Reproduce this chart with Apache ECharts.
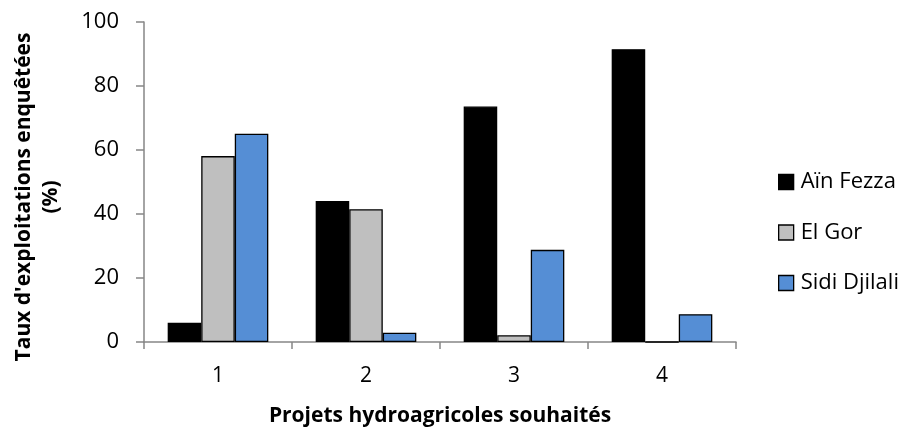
<!DOCTYPE html>
<html>
<head>
<meta charset="utf-8">
<script src="https://cdn.jsdelivr.net/npm/echarts@6/dist/echarts.min.js"></script>
<style>
  html, body { margin: 0; padding: 0; background: #fff; }
  #chart { width: 908px; height: 430px; }
</style>
</head>
<body>
<div id="chart"></div>
<script>
// Projects categories on the x axis
const categories = ['1', '2', '3', '4'];

// Share of surveyed farms (%) per site
const ainFezza = [6.0, 44.1, 73.6, 91.5];
const elGor = [58.1, 41.5, 2.1, 0];
const sidiDjilali = [65.1, 2.9, 28.8, 8.7];

const seriesNames = ['Aïn Fezza', 'El Gor', 'Sidi Djilali'];
const yTicks = { min: 0, max: 100, interval: 20 };

const FONT = 'Open Sans';
const axisGray = '#868686';

const chart = echarts.init(document.getElementById('chart'), null, { renderer: 'canvas' });

function barSeries(name, data, color) {
  return {
    name: name,
    type: 'bar',
    data: data,
    barGap: '0%',
    barCategoryGap: '32%',
    itemStyle: { color: color, borderColor: '#000', borderWidth: 1.3 },
    emphasis: { disabled: true }
  };
}

chart.setOption({
  animation: false,
  textStyle: { fontFamily: FONT },
  grid: { left: 144, right: 172, top: 22, bottom: 88, containLabel: false, outerBoundsMode: 'none' },
  xAxis: {
    type: 'category',
    data: categories,
    axisLine: { lineStyle: { color: axisGray, width: 1.5 } },
    axisTick: { show: true, alignWithLabel: false, length: 7, lineStyle: { color: axisGray, width: 1.5 } },
    axisLabel: { color: '#000', fontSize: 21, fontFamily: FONT, margin: 24 },
    name: 'Projets hydroagricoles souhaités',
    nameLocation: 'middle',
    nameGap: 64,
    nameTextStyle: { color: '#000', fontSize: 21, fontWeight: 'bold', fontFamily: FONT }
  },
  yAxis: {
    type: 'value',
    min: yTicks.min,
    max: yTicks.max,
    interval: yTicks.interval,
    splitLine: { show: false },
    axisLine: { show: true, lineStyle: { color: axisGray, width: 1.5 } },
    axisTick: { show: true, length: 8, lineStyle: { color: axisGray, width: 1.5 } },
    axisLabel: { color: '#000', fontSize: 22, fontFamily: FONT, margin: 25 }
  },
  legend: {
    orient: 'vertical',
    left: 778,
    top: 171,
    padding: 0,
    itemWidth: 15,
    itemHeight: 15,
    itemGap: 28.5,
    icon: 'rect',
    selectedMode: false,
    data: seriesNames,
    itemStyle: { borderColor: '#000', borderWidth: 1.3 },
    textStyle: { color: '#000', fontSize: 22, lineHeight: 20, fontFamily: FONT, padding: [0, 0, 0, 2] }
  },
  graphic: [{
    type: 'text',
    x: 38,
    y: 197,
    rotation: Math.PI / 2,
    style: {
      text: "Taux d'exploitations enquêtées\n(%)",
      fill: '#000',
      font: 'bold 21px ' + FONT,
      lineHeight: 27,
      align: 'center',
      verticalAlign: 'middle'
    }
  }],
  series: [
    barSeries(seriesNames[0], ainFezza, '#000000'),
    barSeries(seriesNames[1], elGor, '#BFBFBF'),
    barSeries(seriesNames[2], sidiDjilali, '#558ED5')
  ]
});
</script>
</body>
</html>
